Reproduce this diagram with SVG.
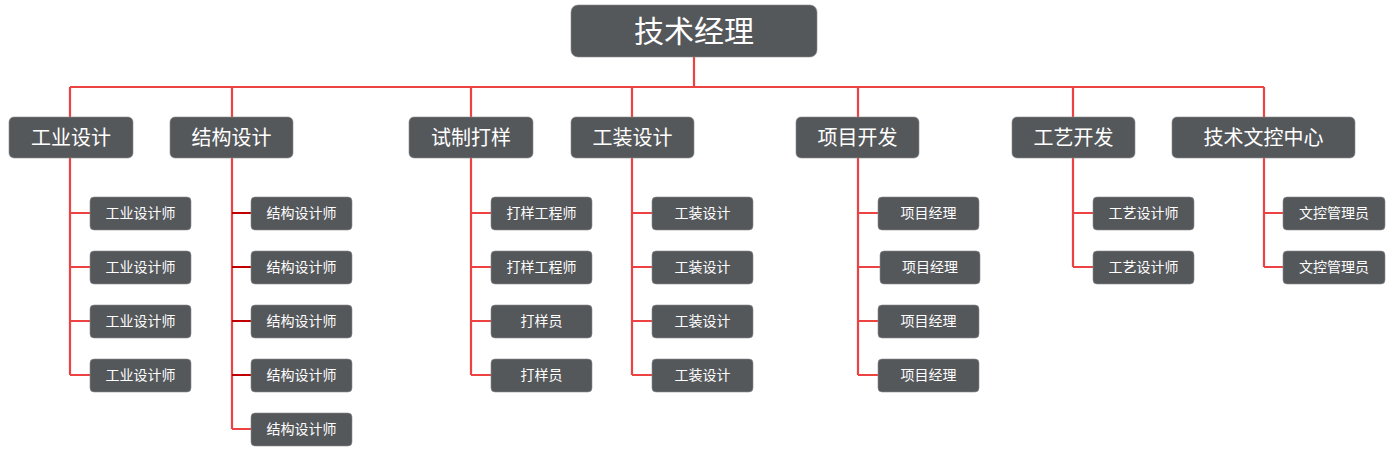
<svg xmlns="http://www.w3.org/2000/svg" width="1400" height="452" viewBox="0 0 1400 452">
<style>
.n{fill:#55585b;stroke:#8a8c8e;stroke-width:0.6}
.t{fill:#ffffff;font-family:"Noto Sans CJK SC","Noto Sans",sans-serif;text-anchor:middle;dominant-baseline:central}
.t0{font-size:30px}
.t1{font-size:20px}
.t2{font-size:14px}
.c{stroke:#ec4242;stroke-width:2.2;fill:none}
.d{stroke:#c00000;stroke-width:2.2;fill:none}
</style>
<rect width="1400" height="452" fill="#ffffff"/>
<g id="connectors">
<path class="c" d="M694 57V87M70 87H1264M70 87V117M232 87V117M471 87V117M632 87V117M858 87V117M1073 87V117M1264 87V117"/>
<path class="c" d="M70 158V375M70 213H90M70 267H90M70 321H90M70 375H90"/>
<path class="c" d="M232 158V429M232 429H251"/>
<path class="d" d="M232 213H251M232 267H251M232 321H251M232 375H251"/>
<path class="c" d="M471 158V375M471 213H491M471 267H491M471 321H491M471 375H491"/>
<path class="c" d="M632 158V375M632 213H652M632 267H652M632 321H652M632 375H652"/>
<path class="c" d="M858 158V375M858 213H878M858 267H880M858 321H878M858 375H878"/>
<path class="c" d="M1073 158V267M1073 213H1093M1073 267H1093"/>
<path class="c" d="M1264 158V267M1264 213H1283M1264 267H1283"/>
</g>
<g id="root"><rect class="n" x="571" y="5" width="246" height="52" rx="7"/><text class="t t0" x="694" y="29">技术经理</text></g>
<g id="n-gysj"><rect class="n" x="9" y="117" width="124" height="41" rx="5"/><text class="t t1" x="71" y="136">工业设计</text></g>
<g id="n-jgsj"><rect class="n" x="170" y="117" width="123" height="41" rx="5"/><text class="t t1" x="231.5" y="136">结构设计</text></g>
<g id="n-szdy"><rect class="n" x="409" y="117" width="124" height="41" rx="5"/><text class="t t1" x="471" y="136">试制打样</text></g>
<g id="n-gzsj"><rect class="n" x="571" y="117" width="123" height="41" rx="5"/><text class="t t1" x="632.5" y="136">工装设计</text></g>
<g id="n-xmkf"><rect class="n" x="796" y="117" width="123" height="41" rx="5"/><text class="t t1" x="857.5" y="136">项目开发</text></g>
<g id="n-gykf"><rect class="n" x="1012" y="117" width="123" height="41" rx="5"/><text class="t t1" x="1073.5" y="136">工艺开发</text></g>
<g id="n-jswk"><rect class="n" x="1172" y="117" width="183" height="41" rx="5"/><text class="t t1" x="1263.5" y="136">技术文控中心</text></g>

<g id="l-gy1"><rect class="n" x="90" y="197" width="101" height="33" rx="4"/><text class="t t2" x="140.5" y="212">工业设计师</text></g>
<g id="l-gy2"><rect class="n" x="90" y="251" width="101" height="33" rx="4"/><text class="t t2" x="140.5" y="266">工业设计师</text></g>
<g id="l-gy3"><rect class="n" x="90" y="305" width="101" height="33" rx="4"/><text class="t t2" x="140.5" y="320">工业设计师</text></g>
<g id="l-gy4"><rect class="n" x="90" y="359" width="101" height="33" rx="4"/><text class="t t2" x="140.5" y="374">工业设计师</text></g>

<g id="l-jg1"><rect class="n" x="251" y="197" width="101" height="33" rx="4"/><text class="t t2" x="301.5" y="212">结构设计师</text></g>
<g id="l-jg2"><rect class="n" x="251" y="251" width="101" height="33" rx="4"/><text class="t t2" x="301.5" y="266">结构设计师</text></g>
<g id="l-jg3"><rect class="n" x="251" y="305" width="101" height="33" rx="4"/><text class="t t2" x="301.5" y="320">结构设计师</text></g>
<g id="l-jg4"><rect class="n" x="251" y="359" width="101" height="33" rx="4"/><text class="t t2" x="301.5" y="374">结构设计师</text></g>
<g id="l-jg5"><rect class="n" x="251" y="413" width="101" height="33" rx="4"/><text class="t t2" x="301.5" y="428">结构设计师</text></g>

<g id="l-dy1"><rect class="n" x="491" y="197" width="101" height="33" rx="4"/><text class="t t2" x="541.5" y="212">打样工程师</text></g>
<g id="l-dy2"><rect class="n" x="491" y="251" width="101" height="33" rx="4"/><text class="t t2" x="541.5" y="266">打样工程师</text></g>
<g id="l-dy3"><rect class="n" x="491" y="305" width="101" height="33" rx="4"/><text class="t t2" x="541.5" y="320">打样员</text></g>
<g id="l-dy4"><rect class="n" x="491" y="359" width="101" height="33" rx="4"/><text class="t t2" x="541.5" y="374">打样员</text></g>

<g id="l-gz1"><rect class="n" x="652" y="197" width="101" height="33" rx="4"/><text class="t t2" x="702.5" y="212">工装设计</text></g>
<g id="l-gz2"><rect class="n" x="652" y="251" width="101" height="33" rx="4"/><text class="t t2" x="702.5" y="266">工装设计</text></g>
<g id="l-gz3"><rect class="n" x="652" y="305" width="101" height="33" rx="4"/><text class="t t2" x="702.5" y="320">工装设计</text></g>
<g id="l-gz4"><rect class="n" x="652" y="359" width="101" height="33" rx="4"/><text class="t t2" x="702.5" y="374">工装设计</text></g>

<g id="l-xm1"><rect class="n" x="878" y="197" width="101" height="33" rx="4"/><text class="t t2" x="928.5" y="212">项目经理</text></g>
<g id="l-xm2"><rect class="n" x="880" y="251" width="100" height="33" rx="4"/><text class="t t2" x="930" y="266">项目经理</text></g>
<g id="l-xm3"><rect class="n" x="878" y="305" width="101" height="33" rx="4"/><text class="t t2" x="928.5" y="320">项目经理</text></g>
<g id="l-xm4"><rect class="n" x="878" y="359" width="101" height="33" rx="4"/><text class="t t2" x="928.5" y="374">项目经理</text></g>

<g id="l-gyk1"><rect class="n" x="1093" y="197" width="101" height="33" rx="4"/><text class="t t2" x="1143.5" y="212">工艺设计师</text></g>
<g id="l-gyk2"><rect class="n" x="1093" y="251" width="101" height="33" rx="4"/><text class="t t2" x="1143.5" y="266">工艺设计师</text></g>

<g id="l-wk1"><rect class="n" x="1283" y="197" width="102" height="33" rx="4"/><text class="t t2" x="1334" y="212">文控管理员</text></g>
<g id="l-wk2"><rect class="n" x="1283" y="251" width="102" height="33" rx="4"/><text class="t t2" x="1334" y="266">文控管理员</text></g>
</svg>
